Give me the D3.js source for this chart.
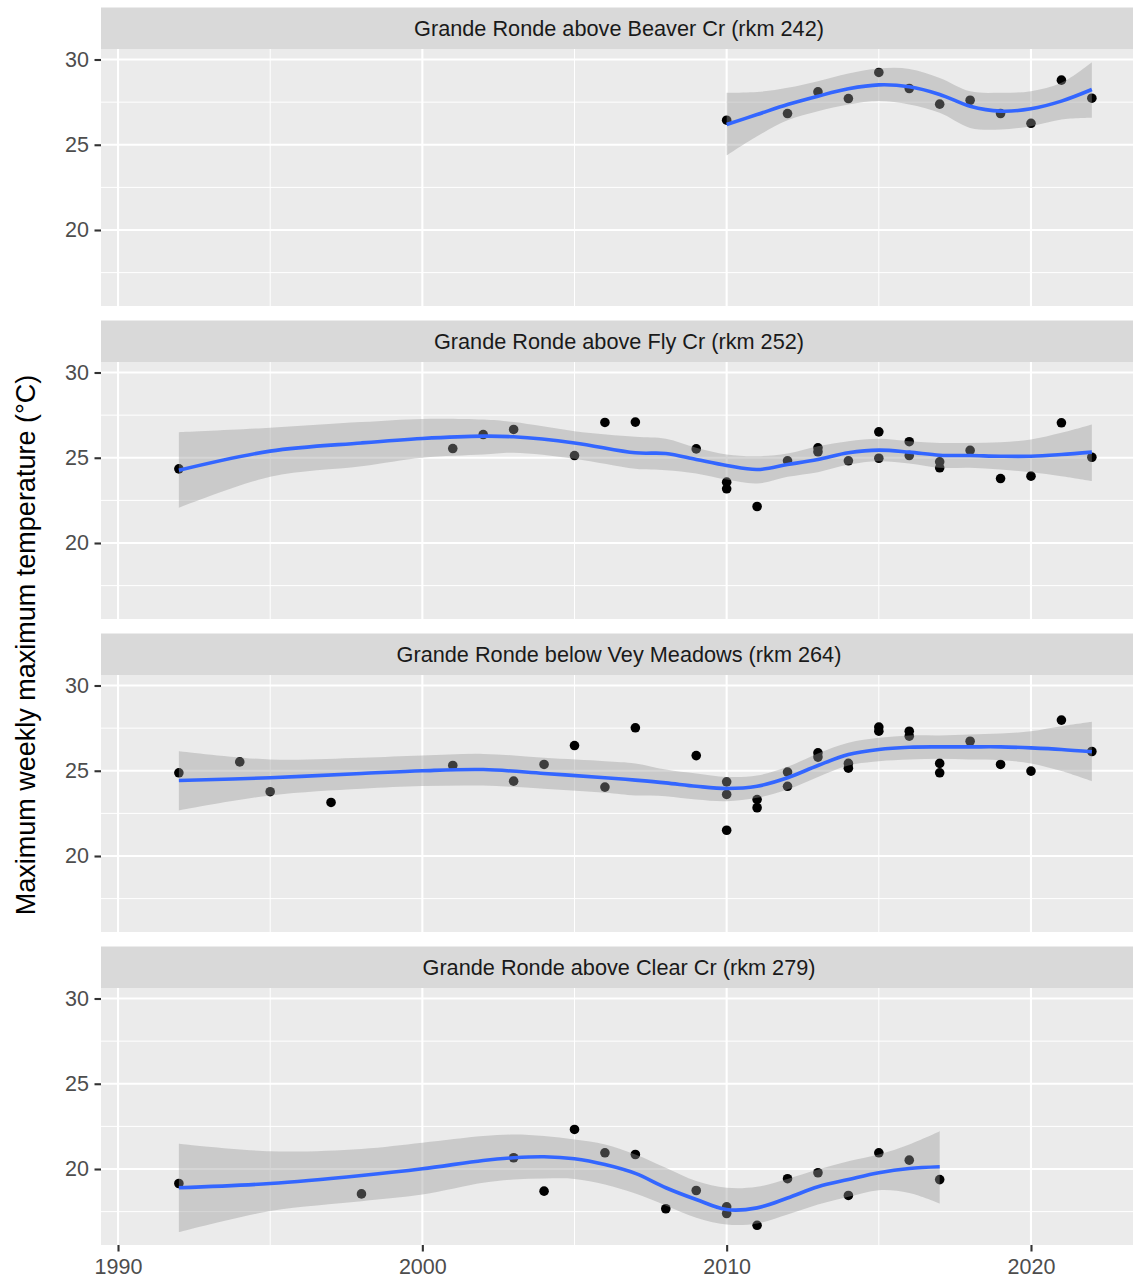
<!DOCTYPE html>
<html>
<head>
<meta charset="utf-8">
<script src="https://cdn.jsdelivr.net/npm/d3@7"></script>
<style>
  html, body { margin: 0; padding: 0; background: #fff; }
  svg { display: block; font-family: "Liberation Sans", Arial, sans-serif; }
</style>
</head>
<body>
<svg id="chart" width="1133" height="1281"></svg>
<script>
// Site names shown in the facet strips
const sites = [
  "Grande Ronde above Beaver Cr (rkm 242)",
  "Grande Ronde above Fly Cr (rkm 252)",
  "Grande Ronde below Vey Meadows (rkm 264)",
  "Grande Ronde above Clear Cr (rkm 279)"
];

// Annual maximum weekly maximum temperature observations, per site
const beaverYears = [2010, 2012, 2013, 2014, 2015, 2016, 2017, 2018, 2019, 2020, 2021, 2022];
const beaverTemps = [26.44, 26.83, 28.10, 27.71, 29.24, 28.30, 27.38, 27.61, 26.83, 26.26, 28.79, 27.73];

const flyYears = [1992, 2001, 2002, 2003, 2005, 2006, 2007, 2009, 2010, 2010, 2011, 2012, 2013, 2013, 2014,
                  2015, 2015, 2016, 2016, 2017, 2017, 2018, 2019, 2020, 2021, 2022];
const flyTemps = [24.35, 25.54, 26.36, 26.66, 25.13, 27.07, 27.09, 25.52, 23.57, 23.18, 22.14, 24.82, 25.58, 25.35, 24.82,
                  26.52, 24.97, 25.94, 25.13, 24.76, 24.41, 25.43, 23.78, 23.92, 27.05, 25.03];

const veyYears = [1992, 1994, 1995, 1997, 2001, 2003, 2004, 2005, 2006, 2007, 2009, 2010, 2010, 2010, 2011, 2011,
                  2012, 2012, 2013, 2013, 2014, 2014, 2015, 2015, 2016, 2016, 2017, 2017, 2018, 2019, 2020, 2021, 2022];
const veyTemps = [24.88, 25.52, 23.77, 23.14, 25.31, 24.39, 25.37, 26.48, 24.04, 27.52, 25.89, 24.35, 23.61, 21.51, 23.31, 22.83,
                  24.92, 24.09, 26.05, 25.80, 25.43, 25.15, 27.56, 27.32, 27.32, 27.03, 25.43, 24.88, 26.73, 25.37, 24.98, 27.97, 26.13];

const clearYears = [1992, 1998, 2003, 2004, 2005, 2006, 2007, 2008, 2009, 2010, 2010, 2011, 2012, 2013, 2014, 2015, 2016, 2017];
const clearTemps = [19.15, 18.54, 20.66, 18.70, 22.32, 20.95, 20.85, 17.67, 18.74, 17.78, 17.39, 16.70, 19.43, 19.78, 18.45, 20.95, 20.52, 19.38];

// Loess smooth with 95% confidence band, per site
const beaverFitYears = [2010, 2011, 2012, 2013, 2014, 2015, 2016, 2017, 2018, 2019, 2020, 2021, 2022];
const beaverFit   = [26.19, 26.77, 27.36, 27.85, 28.28, 28.51, 28.40, 27.95, 27.26, 26.97, 27.11, 27.56, 28.24];
const beaverUpper = [28.05, 28.09, 28.34, 28.73, 29.18, 29.47, 29.45, 28.92, 28.14, 28.05, 28.14, 28.63, 29.84];
const beaverLower = [24.37, 25.50, 26.44, 26.97, 27.36, 27.56, 27.36, 26.87, 25.99, 25.89, 26.09, 26.48, 26.58];

const flyFitYears = [1992, 1995, 1998, 2000, 2002, 2003, 2005, 2007, 2008, 2009, 2010, 2011, 2012, 2013, 2014,
                     2015, 2016, 2017, 2018, 2019, 2020, 2021, 2022];
const flyFit   = [24.27, 25.39, 25.87, 26.13, 26.27, 26.23, 25.87, 25.29, 25.25, 24.90, 24.55, 24.31, 24.60, 24.90, 25.29,
                  25.45, 25.33, 25.15, 25.13, 25.09, 25.09, 25.19, 25.33];
const flyUpper = [26.50, 26.76, 27.09, 27.28, 27.24, 27.09, 26.56, 26.23, 26.11, 25.58, 25.19, 25.09, 25.25, 25.68, 25.97,
                  26.11, 25.97, 25.87, 25.87, 25.91, 26.07, 26.46, 26.95];
const flyLower = [22.06, 23.88, 24.50, 25.00, 25.19, 25.29, 24.94, 24.35, 24.27, 24.08, 23.72, 23.49, 23.88, 24.15, 24.60,
                  24.80, 24.66, 24.41, 24.41, 24.31, 24.15, 23.92, 23.64];

const veyFitYears = [1992, 1995, 1998, 2000, 2002, 2004, 2006, 2007, 2008, 2009, 2010, 2011, 2012, 2013, 2014,
                     2015, 2016, 2017, 2018, 2019, 2020, 2021, 2022];
const veyFit   = [24.43, 24.59, 24.84, 25.00, 25.07, 24.84, 24.59, 24.45, 24.29, 24.09, 23.96, 24.09, 24.59, 25.31, 25.95,
                  26.25, 26.38, 26.40, 26.40, 26.40, 26.34, 26.25, 26.11];
const veyUpper = [26.15, 25.66, 25.76, 25.89, 25.99, 25.76, 25.56, 25.43, 25.07, 24.84, 24.64, 24.72, 25.23, 26.01, 26.64,
                  26.93, 27.07, 27.07, 27.13, 27.18, 27.32, 27.61, 27.87];
const veyLower = [22.67, 23.55, 23.94, 24.10, 24.13, 23.94, 23.71, 23.55, 23.51, 23.31, 23.21, 23.41, 23.90, 24.64, 25.31,
                  25.56, 25.66, 25.70, 25.66, 25.62, 25.43, 24.98, 24.39];

const clearFitYears = [1992, 1995, 1998, 2000, 2002, 2003, 2004, 2005, 2006, 2007, 2008, 2009, 2010, 2011, 2012,
                       2013, 2014, 2015, 2016, 2017];
const clearFit   = [18.90, 19.15, 19.62, 20.01, 20.50, 20.66, 20.72, 20.60, 20.26, 19.74, 18.90, 18.21, 17.62, 17.72, 18.30,
                    18.96, 19.38, 19.78, 20.03, 20.13];
const clearUpper = [21.48, 21.04, 21.18, 21.54, 21.93, 22.02, 21.93, 21.73, 21.44, 20.85, 20.07, 19.29, 18.90, 18.96, 19.42,
                    19.97, 20.46, 20.85, 21.44, 22.22];
const clearLower = [16.29, 17.53, 18.11, 18.50, 19.19, 19.38, 19.44, 19.42, 19.09, 18.56, 17.86, 17.14, 16.74, 16.80, 17.33,
                    17.92, 18.37, 18.76, 18.60, 17.98];

// Axis ticks
const xMajor = [1990, 2000, 2010, 2020];
const xMinor = [1995, 2005, 2015];
const yMajor = [20, 25, 30];
const yMinor = [17.5, 22.5, 27.5];
const yTitle = "Maximum weekly maximum temperature (°C)";

const zipPts = (xs, ys) => xs.map((x, i) => ({ x, y: ys[i] }));
const zipBand = (xs, f, lo, hi) => xs.map((x, i) => ({ x, fit: f[i], lo: lo[i], hi: hi[i] }));

const panels = [
  { name: sites[0], pts: zipPts(beaverYears, beaverTemps), band: zipBand(beaverFitYears, beaverFit, beaverLower, beaverUpper) },
  { name: sites[1], pts: zipPts(flyYears, flyTemps),       band: zipBand(flyFitYears, flyFit, flyLower, flyUpper) },
  { name: sites[2], pts: zipPts(veyYears, veyTemps),       band: zipBand(veyFitYears, veyFit, veyLower, veyUpper) },
  { name: sites[3], pts: zipPts(clearYears, clearTemps),   band: zipBand(clearFitYears, clearFit, clearLower, clearUpper) }
];

// Layout
const left = 101, right = 1133;
const pitch = 313;
const stripTop = 7.5, stripH = 41.5, plotH = 257;
const tickFont = 21.5;

const svg = d3.select("#chart");

const x = d3.scaleLinear().domain([1989.441, 2023.352]).range([left, right]);

panels.forEach((p, i) => {
  const top = stripTop + i * pitch;
  const pTop = top + stripH;
  const pBot = pTop + plotH;
  const y = d3.scaleLinear().domain([15.543, 30.616]).range([pBot, pTop]);

  const g = svg.append("g");

  // strip
  g.append("rect").attr("x", left).attr("y", top).attr("width", right - left).attr("height", stripH)
    .attr("fill", "#D9D9D9");
  g.append("text").attr("x", (left + right) / 2 + 2).attr("y", top + stripH / 2)
    .attr("text-anchor", "middle").attr("dominant-baseline", "central")
    .attr("font-size", 21.7).attr("fill", "#1A1A1A").text(p.name);

  // panel background
  g.append("rect").attr("x", left).attr("y", pTop).attr("width", right - left).attr("height", plotH)
    .attr("fill", "#EBEBEB");

  const clipId = "clip" + i;
  g.append("clipPath").attr("id", clipId).append("rect")
    .attr("x", left).attr("y", pTop).attr("width", right - left).attr("height", plotH);

  // grid
  const grid = g.append("g").attr("clip-path", `url(#${clipId})`);
  grid.selectAll(".ymin").data(yMinor).join("line")
    .attr("x1", left).attr("x2", right).attr("y1", d => y(d)).attr("y2", d => y(d))
    .attr("stroke", "#fff").attr("stroke-width", 1);
  grid.selectAll(".xmin").data(xMinor).join("line")
    .attr("y1", pTop).attr("y2", pBot).attr("x1", d => x(d)).attr("x2", d => x(d))
    .attr("stroke", "#fff").attr("stroke-width", 1);
  grid.selectAll(".ymaj").data(yMajor).join("line")
    .attr("x1", left).attr("x2", right).attr("y1", d => y(d)).attr("y2", d => y(d))
    .attr("stroke", "#fff").attr("stroke-width", 2.1);
  grid.selectAll(".xmaj").data(xMajor).join("line")
    .attr("y1", pTop).attr("y2", pBot).attr("x1", d => x(d)).attr("x2", d => x(d))
    .attr("stroke", "#fff").attr("stroke-width", 2.1);

  const marks = g.append("g").attr("clip-path", `url(#${clipId})`);

  // observations
  marks.selectAll("circle").data(p.pts).join("circle")
    .attr("cx", d => x(d.x)).attr("cy", d => y(d.y)).attr("r", 4.8).attr("fill", "#000");

  // confidence band over the points
  const area = d3.area().curve(d3.curveCatmullRom)
    .x(d => x(d.x)).y0(d => y(d.lo)).y1(d => y(d.hi));
  marks.append("path").datum(p.band).attr("d", area)
    .attr("fill", "#999999").attr("fill-opacity", 0.4);

  // smooth line
  const line = d3.line().curve(d3.curveCatmullRom).x(d => x(d.x)).y(d => y(d.fit));
  marks.append("path").datum(p.band).attr("d", line)
    .attr("fill", "none").attr("stroke", "#3366FF").attr("stroke-width", 3.6);

  // y axis
  const yAxis = d3.axisLeft(y).tickValues(yMajor).tickSize(6.5).tickPadding(5.5);
  const ya = g.append("g").attr("transform", `translate(${left},0)`).call(yAxis);
  ya.select(".domain").remove();
  ya.selectAll(".tick line").attr("stroke", "#333333").attr("stroke-width", 2.1);
  ya.selectAll(".tick text").attr("font-size", tickFont).attr("fill", "#4D4D4D")
    .attr("font-family", "Liberation Sans, Arial, sans-serif");

  if (i === panels.length - 1) {
    const xAxis = d3.axisBottom(x).tickValues(xMajor).tickFormat(d3.format("d")).tickSize(6.5).tickPadding(7);
    const xa = g.append("g").attr("transform", `translate(0,${pBot})`).call(xAxis);
    xa.select(".domain").remove();
    xa.selectAll(".tick line").attr("stroke", "#333333").attr("stroke-width", 2.1);
    xa.selectAll(".tick text").attr("font-size", tickFont).attr("fill", "#4D4D4D")
      .attr("font-family", "Liberation Sans, Arial, sans-serif");
  }
});

// y axis title
svg.append("text")
  .attr("transform", `translate(35,645) rotate(-90)`)
  .attr("text-anchor", "middle")
  .attr("font-size", 27).attr("fill", "#000")
  .text(yTitle);
</script>
</body>
</html>
